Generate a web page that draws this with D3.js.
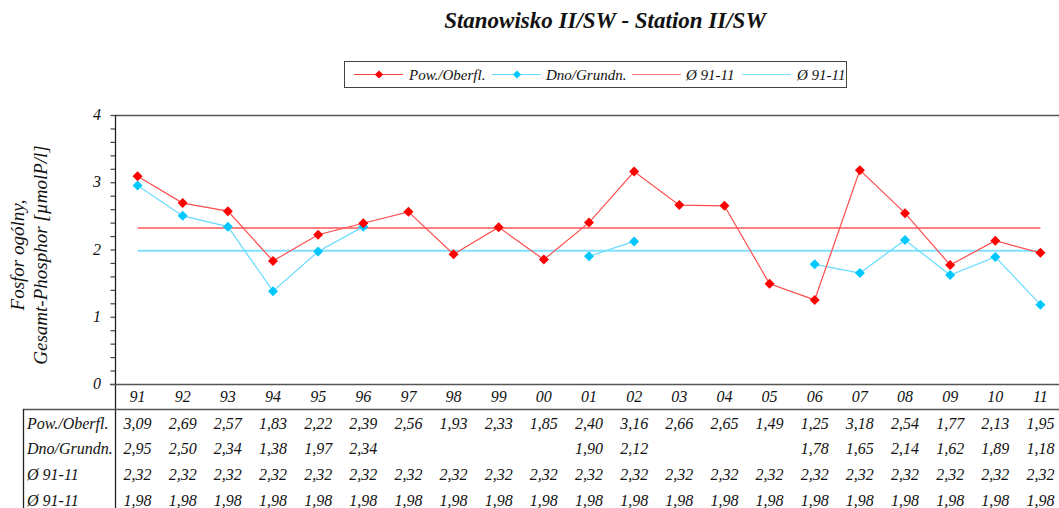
<!DOCTYPE html>
<html>
<head>
<meta charset="utf-8">
<script src="https://cdn.jsdelivr.net/npm/d3@7/dist/d3.min.js"></script>
<style>
  html, body { margin: 0; padding: 0; background: #fff; }
  svg { display: block; }
</style>
</head>
<body>
<svg id="chart" width="1059" height="508"></svg>
<script>
// Total phosphorus, station II/SW, surface vs. bottom water, 1991–2011
const years = ["91","92","93","94","95","96","97","98","99","00","01","02","03","04","05","06","07","08","09","10","11"];
const surface = [3.09,2.69,2.57,1.83,2.22,2.39,2.56,1.93,2.33,1.85,2.40,3.16,2.66,2.65,1.49,1.25,3.18,2.54,1.77,2.13,1.95];
const bottom  = [2.95,2.50,2.34,1.38,1.97,2.34,null,null,null,null,1.90,2.12,null,null,null,1.78,1.65,2.14,1.62,1.89,1.18];
const avgSurface = years.map(() => 2.32);
const avgBottom  = years.map(() => 1.98);
const yTicks = [0,1,2,3,4];
const seriesNames = ["Pow./Oberfl.","Dno/Grundn.","Ø 91-11","Ø 91-11"];

const FONT = "Liberation Serif";
const fmt = v => v == null ? "" : v.toFixed(2).replace(".", ",");

const svg = d3.select("#chart");

const x = d3.scaleBand().domain(years).range([115, 1063]);
const cx = d => x(d) + x.bandwidth() / 2;
const y = d3.scaleLinear().domain([0, 4]).range([384, 115]);

function label(sel) {
  return sel.attr("font-family", FONT).attr("font-style", "italic").attr("fill", "#111");
}

// Title
label(svg.append("text"))
  .attr("x", 605).attr("y", 28)
  .attr("text-anchor", "middle")
  .attr("font-size", 23).attr("font-weight", "bold")
  .text("Stanowisko II/SW - Station II/SW");

// Legend
const lg = svg.append("g");
lg.append("rect").attr("x", 344.5).attr("y", 61.5).attr("width", 502).attr("height", 26)
  .attr("fill", "none").attr("stroke", "#444").attr("stroke-width", 1);
const legendItems = [
  { x0: 354, tx: 409, color: "#ff4040", marker: "#ff0000", name: seriesNames[0] },
  { x0: 492, tx: 546, color: "#66dbff", marker: "#00c8ff", name: seriesNames[1] },
  { x0: 632, tx: 686, color: "#ff8080", marker: null, name: seriesNames[2] },
  { x0: 742, tx: 797, color: "#80e0ff", marker: null, name: seriesNames[3] }
];
legendItems.forEach(it => {
  lg.append("line").attr("x1", it.x0).attr("x2", it.x0 + 49).attr("y1", 74.5).attr("y2", 74.5)
    .attr("stroke", it.color).attr("stroke-width", 1.2);
  if (it.marker) {
    lg.append("path").attr("d", d3.symbol(d3.symbolSquare, 34)())
      .attr("transform", `translate(${it.x0 + 25},74.5) rotate(45)`).attr("fill", it.marker);
  }
  label(lg.append("text")).attr("x", it.tx).attr("y", 79.5).attr("font-size", 15).text(it.name);
});

// Plot frame: top border and axes
svg.append("line").attr("x1", 115).attr("x2", 1059).attr("y1", 115.5).attr("y2", 115.5)
  .attr("stroke", "#555").attr("stroke-width", 1.3);

// Y axis with minor ticks every 0.2
const yAxis = d3.axisLeft(y).tickValues(d3.range(0, 4.001, 0.2)).tickSize(5)
  .tickFormat(() => "");
const ya = svg.append("g").attr("transform", "translate(115.5,0)").call(yAxis);
ya.select(".domain").remove();
ya.selectAll(".tick line").attr("stroke", "#444").attr("stroke-width", 1.2);
svg.append("line").attr("x1", 115.5).attr("x2", 115.5).attr("y1", 115).attr("y2", 508)
  .attr("stroke", "#222").attr("stroke-width", 1.3);

label(svg.selectAll(".ylab").data(yTicks).enter().append("text"))
  .attr("class", "ylab")
  .attr("x", 101).attr("y", d => y(d) + 5)
  .attr("text-anchor", "end").attr("font-size", 16)
  .text(d => d);

// X axis line
svg.append("line").attr("x1", 110).attr("x2", 1059).attr("y1", 384.5).attr("y2", 384.5)
  .attr("stroke", "#555").attr("stroke-width", 1.3);

// Y title
const yt = label(svg.append("text")).attr("transform", "translate(0,255) rotate(-90)")
  .attr("text-anchor", "middle").attr("font-size", 19);
yt.append("tspan").attr("x", 0).attr("y", 24).text("Fosfor ogólny,");
yt.append("tspan").attr("x", 0).attr("y", 47).text("Gesamt-Phosphor [µmolP/l]");

// Long-term means
const meanLine = d3.line().x((d, i) => cx(years[i])).y(d => y(d));
svg.append("path").datum(avgSurface).attr("d", meanLine)
  .attr("fill", "none").attr("stroke", "#ff8080").attr("stroke-width", 2);
svg.append("path").datum(avgBottom).attr("d", meanLine)
  .attr("fill", "none").attr("stroke", "#80e0ff").attr("stroke-width", 2);

// Data series
const dataLine = d3.line().defined(d => d != null).x((d, i) => cx(years[i])).y(d => y(d));
function drawSeries(vals, lineColor, markColor) {
  svg.append("path").datum(vals).attr("d", dataLine)
    .attr("fill", "none").attr("stroke", lineColor).attr("stroke-width", 1.2);
  svg.append("g").selectAll("path")
    .data(vals.map((v, i) => ({ v, yr: years[i] })).filter(d => d.v != null))
    .enter().append("path")
    .attr("d", d3.symbol(d3.symbolSquare, 50)())
    .attr("transform", d => `translate(${cx(d.yr)},${y(d.v)}) rotate(45)`)
    .attr("fill", markColor);
}
drawSeries(bottom, "#66dbff", "#00c8ff");
drawSeries(surface, "#ff4d4d", "#ff0000");

// Category labels
label(svg.selectAll(".xlab").data(years).enter().append("text"))
  .attr("class", "xlab")
  .attr("x", d => cx(d)).attr("y", 402)
  .attr("text-anchor", "middle").attr("font-size", 16)
  .text(d => d);

// Data table
svg.append("line").attr("x1", 23).attr("x2", 1059).attr("y1", 409.5).attr("y2", 409.5)
  .attr("stroke", "#555").attr("stroke-width", 1.3);
svg.append("line").attr("x1", 23.5).attr("x2", 23.5).attr("y1", 409).attr("y2", 508)
  .attr("stroke", "#222").attr("stroke-width", 1.3);

const rows = [surface, bottom, avgSurface, avgBottom];
const rowBase = [429, 454, 480, 506];
rows.forEach((vals, r) => {
  label(svg.append("text")).attr("x", 27).attr("y", rowBase[r]).attr("font-size", 16).text(seriesNames[r]);
  label(svg.append("g").selectAll("text").data(vals).enter().append("text"))
    .attr("x", (d, i) => cx(years[i])).attr("y", rowBase[r])
    .attr("text-anchor", "middle").attr("font-size", 16)
    .text(d => fmt(d));
});
</script>
</body>
</html>
